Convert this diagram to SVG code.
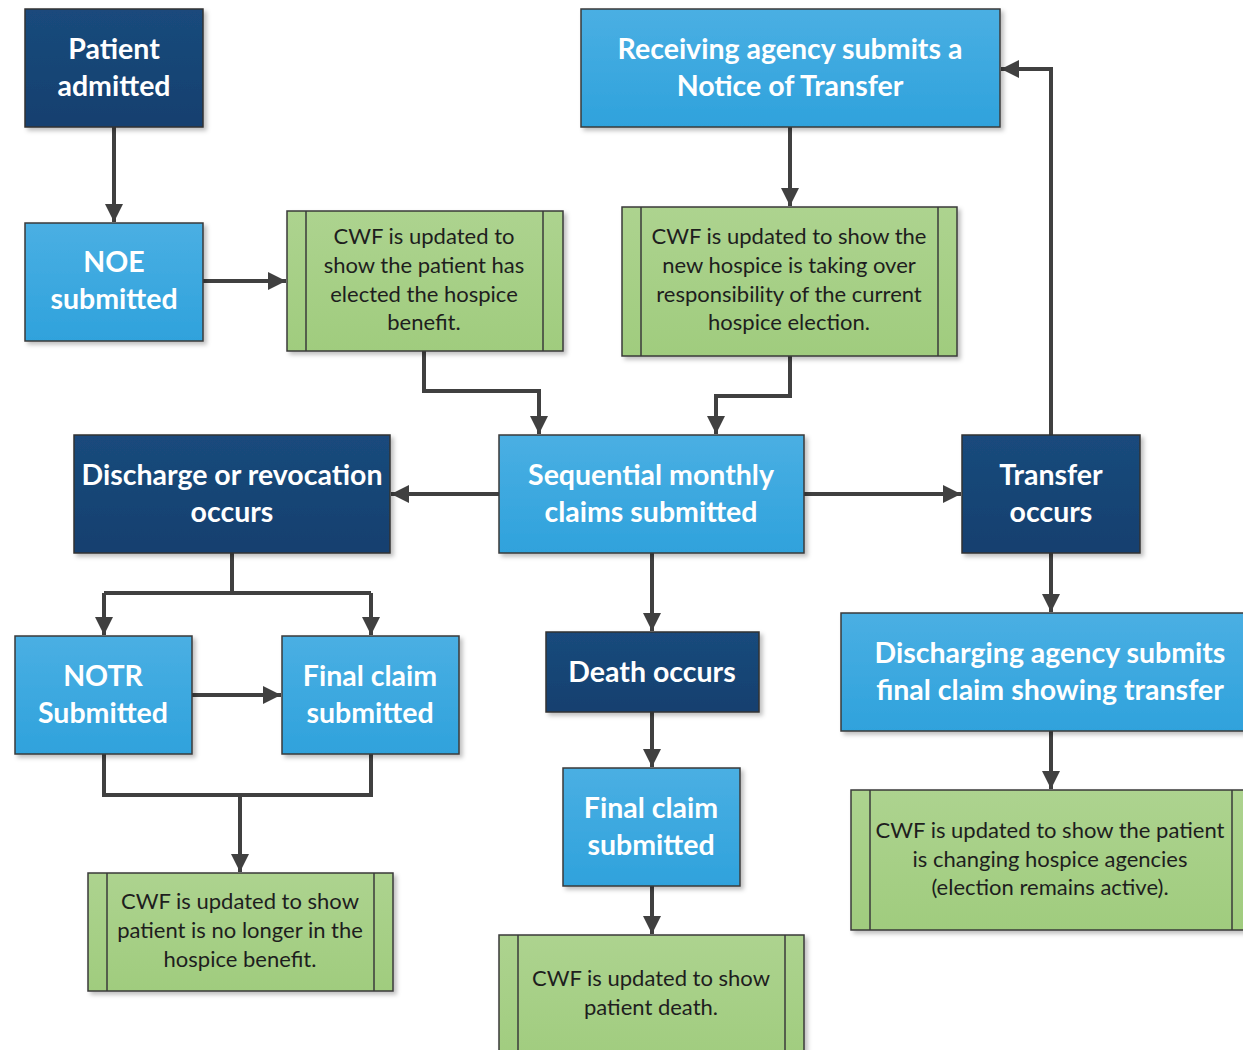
<svg xmlns="http://www.w3.org/2000/svg" width="1243" height="1050" viewBox="0 0 1243 1050">
<defs>
<linearGradient id="gDark" x1="0" y1="0" x2="0" y2="1"><stop offset="0" stop-color="#1a4a7c"/><stop offset="1" stop-color="#14406f"/></linearGradient>
<linearGradient id="gLight" x1="0" y1="0" x2="0" y2="1"><stop offset="0" stop-color="#4aafe3"/><stop offset="1" stop-color="#2fa2dc"/></linearGradient>
<linearGradient id="gGreen" x1="0" y1="0" x2="0" y2="1"><stop offset="0" stop-color="#add38f"/><stop offset="1" stop-color="#a0cc7e"/></linearGradient>
<filter id="sh" x="-10%" y="-10%" width="125%" height="125%"><feDropShadow dx="3" dy="3" stdDeviation="2" flood-color="#000" flood-opacity="0.25"/></filter>
<marker id="a" viewBox="0 0 18 18" refX="18" refY="9" markerWidth="18" markerHeight="18" orient="auto" markerUnits="userSpaceOnUse"><path d="M0,0 L18,9 L0,18 Z" fill="#404040"/></marker>
</defs>
<style>
.dark{fill:url(#gDark);stroke:#333;stroke-width:1.5;filter:url(#sh)}
.light{fill:url(#gLight);stroke:#3a3a3a;stroke-width:1.5;filter:url(#sh)}
.green{fill:url(#gGreen);stroke:#3a3a3a;stroke-width:1.5;filter:url(#sh)}
.vl{stroke:#3a3a3a;stroke-width:1.5}
.t{font-family:Lato,"Open Sans","Liberation Sans",sans-serif;font-weight:bold;font-size:28.5px;fill:#fff;text-anchor:middle}
.g{font-family:Lato,"Open Sans","Liberation Sans",sans-serif;font-size:22px;fill:#1e1e1e;text-anchor:middle}
.c{fill:none;stroke:#404040;stroke-width:4;marker-end:url(#a)}
.cn{fill:none;stroke:#404040;stroke-width:4}
</style>

<g id="connectors">
<path class="c" d="M114,127 V222"/>
<path class="c" d="M203,281 H286"/>
<path class="c" d="M424,351 V391 H539 V434"/>
<path class="c" d="M790,127 V206"/>
<path class="c" d="M790,356 V396 H716 V434"/>
<path class="c" d="M499,494 H391"/>
<path class="c" d="M804,494 H961"/>
<path class="c" d="M1051,435 V69 H1001"/>
<path class="c" d="M1051,553 V612"/>
<path class="c" d="M1051,731 V789"/>
<path class="c" d="M652,553 V631"/>
<path class="c" d="M652,712 V767"/>
<path class="c" d="M652,886 V934"/>
<path class="cn" d="M232,553 V593"/>
<path class="c" d="M104,593 H371 M104,593 V635"/>
<path class="c" d="M371,593 V635"/>
<path class="c" d="M192,695 H281"/>
<path class="cn" d="M104,754 V795 H371 V754"/>
<path class="c" d="M240,795 V872"/>
</g>

<g id="patient-admitted">
<rect class="dark" x="25" y="9" width="178" height="118"/>
<text class="t" x="114" y="59">Patient</text>
<text class="t" x="114" y="96">admitted</text>
</g>
<g id="noe-submitted">
<rect class="light" x="25" y="223" width="178" height="118"/>
<text class="t" x="114" y="272">NOE</text>
<text class="t" x="114" y="309">submitted</text>
</g>
<g id="cwf-elected">
<rect class="green" x="287" y="211" width="276" height="140"/>
<line class="vl" x1="306" y1="211" x2="306" y2="351"/>
<line class="vl" x1="543" y1="211" x2="543" y2="351"/>
<text class="g" x="424" y="244">CWF is updated to</text>
<text class="g" x="424" y="273">show the patient has</text>
<text class="g" x="424" y="302">elected the hospice</text>
<text class="g" x="424" y="330">benefit.</text>
</g>
<g id="receiving-agency">
<rect class="light" x="581" y="9" width="419" height="118"/>
<text class="t" x="790" y="59">Receiving agency submits a</text>
<text class="t" x="790" y="96">Notice of Transfer</text>
</g>
<g id="cwf-new-hospice">
<rect class="green" x="622" y="207" width="335" height="149"/>
<line class="vl" x1="641" y1="207" x2="641" y2="356"/>
<line class="vl" x1="938" y1="207" x2="938" y2="356"/>
<text class="g" x="789" y="244">CWF is updated to show the</text>
<text class="g" x="789" y="273">new hospice is taking over</text>
<text class="g" x="789" y="302">responsibility of the current</text>
<text class="g" x="789" y="330">hospice election.</text>
</g>
<g id="sequential-claims">
<rect class="light" x="499" y="435" width="305" height="118"/>
<text class="t" x="651" y="485">Sequential monthly</text>
<text class="t" x="651" y="522">claims submitted</text>
</g>
<g id="discharge-revocation">
<rect class="dark" x="74" y="435" width="316" height="118"/>
<text class="t" x="232" y="485">Discharge or revocation</text>
<text class="t" x="232" y="522">occurs</text>
</g>
<g id="transfer-occurs">
<rect class="dark" x="962" y="435" width="178" height="118"/>
<text class="t" x="1051" y="485">Transfer</text>
<text class="t" x="1051" y="522">occurs</text>
</g>
<g id="notr-submitted">
<rect class="light" x="15" y="636" width="177" height="118"/>
<text class="t" x="103" y="686">NOTR</text>
<text class="t" x="103" y="723">Submitted</text>
</g>
<g id="final-claim-left">
<rect class="light" x="282" y="636" width="177" height="118"/>
<text class="t" x="370" y="686">Final claim</text>
<text class="t" x="370" y="723">submitted</text>
</g>
<g id="death-occurs">
<rect class="dark" x="546" y="632" width="213" height="80"/>
<text class="t" x="652" y="682">Death occurs</text>
</g>
<g id="final-claim-mid">
<rect class="light" x="563" y="768" width="177" height="118"/>
<text class="t" x="651" y="818">Final claim</text>
<text class="t" x="651" y="855">submitted</text>
</g>
<g id="cwf-death">
<rect class="green" x="499" y="935" width="305" height="130"/>
<line class="vl" x1="518" y1="935" x2="518" y2="1050"/>
<line class="vl" x1="785" y1="935" x2="785" y2="1050"/>
<text class="g" x="651" y="986">CWF is updated to show</text>
<text class="g" x="651" y="1015">patient death.</text>
</g>
<g id="discharging-agency">
<rect class="light" x="841" y="613" width="420" height="118"/>
<text class="t" x="1050" y="663">Discharging agency submits</text>
<text class="t" x="1050" y="700">final claim showing transfer</text>
</g>
<g id="cwf-changing">
<rect class="green" x="851" y="790" width="400" height="140"/>
<line class="vl" x1="870" y1="790" x2="870" y2="930"/>
<line class="vl" x1="1232" y1="790" x2="1232" y2="930"/>
<text class="g" x="1050" y="838">CWF is updated to show the patient</text>
<text class="g" x="1050" y="867">is changing hospice agencies</text>
<text class="g" x="1050" y="895">(election remains active).</text>
</g>
<g id="cwf-no-longer">
<rect class="green" x="88" y="873" width="305" height="118"/>
<line class="vl" x1="107" y1="873" x2="107" y2="991"/>
<line class="vl" x1="374" y1="873" x2="374" y2="991"/>
<text class="g" x="240" y="909">CWF is updated to show</text>
<text class="g" x="240" y="938">patient is no longer in the</text>
<text class="g" x="240" y="967">hospice benefit.</text>
</g>
</svg>
